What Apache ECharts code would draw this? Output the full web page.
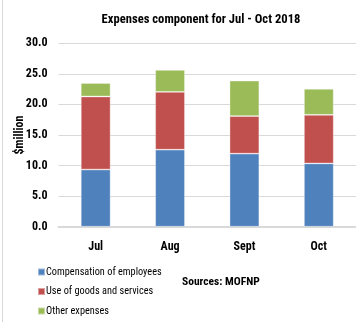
<!DOCTYPE html>
<html>
<head>
<meta charset="utf-8">
<script src="https://cdn.jsdelivr.net/npm/echarts@6/dist/echarts.min.js"></script>
<style>html,body{margin:0;padding:0;background:#fff}#c{width:356px;height:322px}</style>
</head>
<body>
<div id="c"></div>
<script>
var categories = ['Jul', 'Aug', 'Sept', 'Oct'];
var compensation = [9.35, 12.6, 11.95, 10.35];
var useOfGoods = [11.95, 9.45, 6.15, 7.95];
var otherExpenses = [2.2, 3.6, 5.8, 4.25];
var yTicks = { min: 0, max: 30, interval: 5 };
var seriesNames = ['Compensation of employees', 'Use of goods and services', 'Other expenses'];
var titleText = 'Expenses component for Jul - Oct 2018';
var sourceText = 'Sources: MOFNP';
var yName = '$million';

var FONT = '"Roboto Condensed", "Liberation Sans", sans-serif';
var chart = echarts.init(document.getElementById('c'), null, { renderer: 'canvas' });
function bar(name, data, color) {
  return {
    name: name, type: 'bar', stack: 'total', data: data, barWidth: '40%',
    itemStyle: { color: color, borderColor: 'rgba(255,255,255,0.45)', borderWidth: 0.8 },
    animation: false
  };
}
function legendAt(name, top) {
  return {
    orient: 'vertical', left: 37, top: top, itemWidth: 7, itemHeight: 7, padding: 0,
    icon: 'rect', selectedMode: false, itemGap: 0,
    textStyle: { fontFamily: FONT, fontSize: 10.3, color: '#000', padding: [0, 0, 0, -4] },
    data: [name]
  };
}
chart.setOption({
  animation: false,
  title: [
    { text: titleText, left: 196, top: 8, textAlign: 'center',
      textStyle: { fontFamily: FONT, fontSize: 12.6, fontWeight: 'bold', color: '#000' } },
    { text: sourceText, left: 177, top: 271,
      textStyle: { fontFamily: FONT, fontSize: 11.5, fontWeight: 'bold', color: '#000' } }
  ],
  legend: [
    legendAt(seriesNames[0], 267),
    legendAt(seriesNames[1], 286.5),
    legendAt(seriesNames[2], 306)
  ],
  grid: { left: 58.5, top: 43.3, height: 183.4, width: 303, containLabel: false },
  xAxis: {
    type: 'category', data: categories,
    axisLine: { lineStyle: { color: '#d9d9d9', width: 2 } },
    axisTick: { show: false },
    axisLabel: { fontFamily: FONT, fontSize: 12, fontWeight: 'bold', color: '#000', margin: 14 }
  },
  yAxis: {
    type: 'value', min: yTicks.min, max: yTicks.max, interval: yTicks.interval,
    name: yName, nameLocation: 'middle', nameGap: 33, nameRotate: 90, nameMoveOverlap: false,
    nameTextStyle: { fontFamily: FONT, fontSize: 12, fontWeight: 'bold', color: '#000' },
    axisLine: { show: false }, axisTick: { show: false },
    axisLabel: { fontFamily: FONT, fontSize: 12, fontWeight: 'bold', color: '#000', margin: 11,
      formatter: function (v) { return v.toFixed(1); } },
    splitLine: { lineStyle: { color: '#d9d9d9', width: 1 } }
  },
  graphic: [
    { type: 'line', shape: { x1: 2.5, y1: 0, x2: 2.5, y2: 322 }, style: { stroke: '#d9d9d9', lineWidth: 1 } }
  ],
  series: [
    bar(seriesNames[0], compensation, '#4f81bd'),
    bar(seriesNames[1], useOfGoods, '#c0504d'),
    bar(seriesNames[2], otherExpenses, '#9bbb59')
  ]
});
</script>
</body>
</html>
